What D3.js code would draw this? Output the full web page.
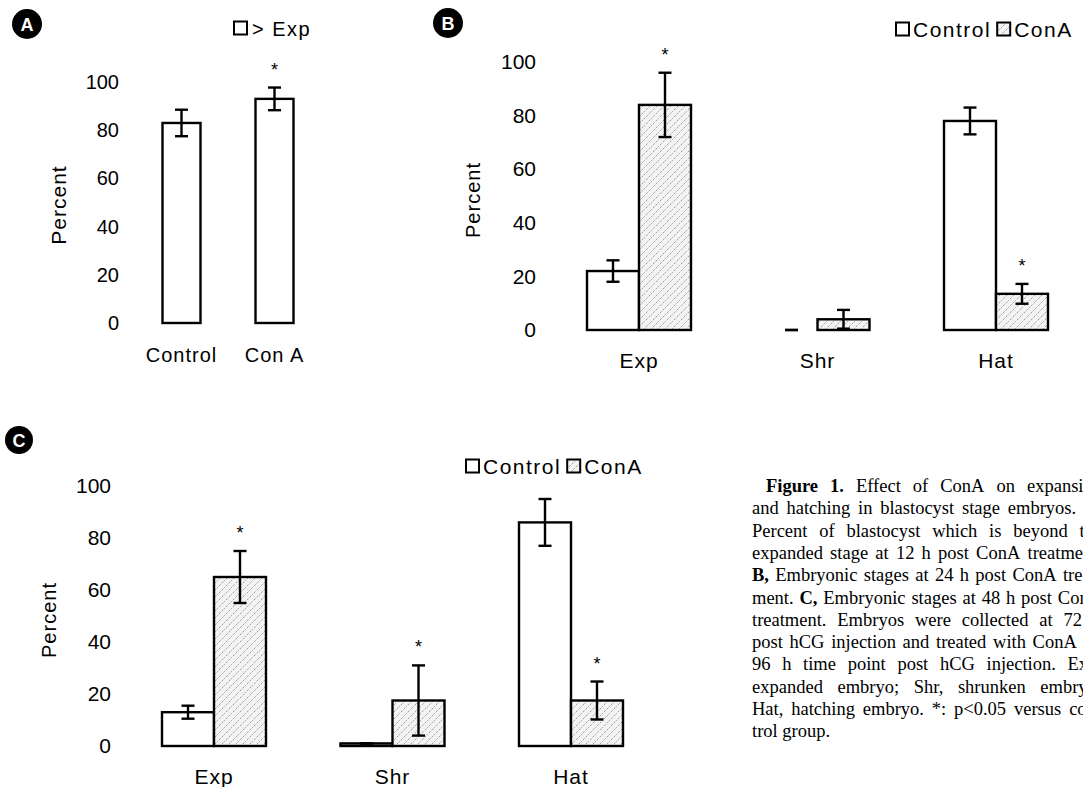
<!DOCTYPE html>
<html>
<head>
<meta charset="utf-8">
<script src="https://cdn.jsdelivr.net/npm/d3@7"></script>
<style>
  body { margin: 0; background: #fff; }
  text { font-family: "Liberation Sans", Arial, sans-serif; fill: #000; }
  .cap { font-family: "Liberation Serif", "Times New Roman", serif; }
</style>
</head>
<body>
<svg id="fig" width="1083" height="787"></svg>
<script>
// ---- data ----
// panel A: blastocysts beyond expanded stage at 12 h
const catsA = ["Control", "Con A"]
const valsA = [83, 93]
const errsA = [5.5, 4.7]
const sigA = [false, true]

// panels B and C: embryonic stages
const stages = ["Exp", "Shr", "Hat"]
const groups = ["Control", "ConA"]

const ctrlB = [22, 0, 78]
const ctrlErrB = [4, 0, 5]
const conaB = [84, 4, 13.5]
const conaErrB = [12, 3.5, 3.7]
const sigB = [true, false, true]

const ctrlC = [13, 1, 86]
const ctrlErrC = [2.5, 0, 9]
const conaC = [65, 17.5, 17.5]
const conaErrC = [10, 13.5, 7.3]
const sigC = [true, true, true]

const yTicks = [0, 20, 40, 60, 80, 100]

const caption = [
  ["Figure 1.", " Effect of ConA on expansion"],
  ["and hatching in blastocyst stage embryos. ", "A,"],
  ["Percent of blastocyst which is beyond the"],
  ["expanded stage at 12 h post ConA treatment."],
  ["B,", " Embryonic stages at 24 h post ConA treat-"],
  ["ment. ", "C,", " Embryonic stages at 48 h post ConA"],
  ["treatment. Embryos were collected at 72 h"],
  ["post hCG injection and treated with ConA on"],
  ["96 h time point post hCG injection. Exp,"],
  ["expanded embryo; Shr, shrunken embryo;"],
  ["Hat, hatching embryo. *: p<0.05 versus con-"],
  ["trol group."]
]
const boldBits = ["Figure 1.", "A,", "B,", "C,"]

// ---- drawing ----
const svg = d3.select("#fig")
svg.append("rect").attr("width", 1083).attr("height", 787).attr("fill", "#fff")

const defs = svg.append("defs")
const pat = defs.append("pattern")
  .attr("id", "hatch")
  .attr("patternUnits", "userSpaceOnUse")
  .attr("width", 7).attr("height", 7)
pat.append("rect").attr("width", 7).attr("height", 7).attr("fill", "#f3f3f3")
pat.append("path").attr("d", "M-1,8 L8,-1")
  .attr("stroke", "#8a8a8a").attr("stroke-width", 0.8).attr("stroke-dasharray", "2.5,1.5")

function badge(cx, cy, r, letter) {
  svg.append("circle").attr("cx", cx).attr("cy", cy).attr("r", r).attr("fill", "#000")
  svg.append("text").attr("x", cx).attr("y", cy + 6.5)
    .attr("text-anchor", "middle").style("font-size", "18px").style("font-weight", "bold")
    .style("fill", "#fff").text(letter)
}

function yAxis(y, xRight, size) {
  const g = svg.append("g")
    .attr("transform", `translate(${xRight},0)`)
    .call(d3.axisLeft(y).tickValues(yTicks).tickSize(0).tickPadding(0))
  g.select(".domain").remove()
  g.selectAll("text")
    .style("font-size", size).style("font-family", null)
    .attr("fill", "#000")
}

function yLabel(x, yc, size) {
  svg.append("text")
    .attr("transform", `translate(${x},${yc}) rotate(-90)`)
    .attr("text-anchor", "middle")
    .style("font-size", size).style("letter-spacing", "1px")
    .text("Percent")
}

function errBar(x, y, v, e, cap) {
  const g = svg.append("g").attr("stroke", "#000").attr("stroke-width", 2.4)
  g.append("line").attr("x1", x).attr("x2", x).attr("y1", y(v - e)).attr("y2", y(v + e))
  g.append("line").attr("x1", x - cap / 2).attr("x2", x + cap / 2).attr("y1", y(v + e)).attr("y2", y(v + e))
  g.append("line").attr("x1", x - cap / 2).attr("x2", x + cap / 2).attr("y1", y(v - e)).attr("y2", y(v - e))
}

function star(x, y, v, e) {
  svg.append("text").attr("x", x).attr("y", y(v + e) - 12)
    .attr("text-anchor", "middle").style("font-size", "18px").text("*")
}

function bar(x0, w, y, v, fill) {
  if (v <= 0) return
  svg.append("rect")
    .attr("x", x0).attr("y", y(v))
    .attr("width", w).attr("height", y(0) - y(v))
    .attr("fill", fill).attr("stroke", "#000").attr("stroke-width", 2.4)
}

function legend(x, yMid, items, size) {
  let cx = x
  items.forEach(it => {
    svg.append("rect").attr("x", cx).attr("y", yMid - 6.5).attr("width", 13).attr("height", 13)
      .attr("fill", it.fill).attr("stroke", "#000").attr("stroke-width", 2)
    cx += it.gap
    const t = svg.append("text").attr("x", cx).attr("y", yMid + 7.5)
      .style("font-size", size).style("letter-spacing", "1.5px").text(it.label)
    cx += t.node().getComputedTextLength() + 6
  })
}

// ---- panel A ----
badge(27, 24, 15, "A")
const yA = d3.scaleLinear().domain([0, 100]).range([323, 82])
const xA = d3.scalePoint().domain(catsA).range([181.5, 274.5])
const wA = 38
yAxis(yA, 119, "20px")
yLabel(66, 205, "21px")
catsA.forEach((c, i) => {
  const cx = xA(c)
  bar(cx - wA / 2, wA, yA, valsA[i], "#fff")
  errBar(cx, yA, valsA[i], errsA[i], 13)
  if (sigA[i]) star(cx, yA, valsA[i], errsA[i])
  svg.append("text").attr("x", cx).attr("y", 362).attr("text-anchor", "middle")
    .style("font-size", "20px").style("letter-spacing", "1px").text(c)
})
legend(234, 28, [{ fill: "#fff", label: "> Exp", gap: 18 }], "20px")

// ---- grouped panels ----
function grouped(opt) {
  const y = d3.scaleLinear().domain([0, 100]).range(opt.yRange)
  const x = d3.scalePoint().domain(stages).range(opt.xRange)
  const sub = d3.scaleBand().domain(groups).range([-opt.w, opt.w])
  yAxis(y, opt.tickRight, "21px")
  yLabel(opt.labelX, opt.labelY, "20px")
  stages.forEach((s, i) => {
    const series = [
      { v: opt.ctrl[i], e: opt.ctrlErr[i], fill: "#fff", sig: false },
      { v: opt.cona[i], e: opt.conaErr[i], fill: "url(#hatch)", sig: opt.sig[i] }
    ]
    series.forEach((d, j) => {
      const x0 = x(s) + sub(groups[j])
      const cx = x0 + sub.bandwidth() / 2
      bar(x0, sub.bandwidth(), y, d.v, d.fill)
      errBar(cx, y, d.v, d.e, 13)
      if (d.sig) star(cx, y, d.v, d.e)
    })
    svg.append("text").attr("x", x(s)).attr("y", opt.catY)
      .attr("text-anchor", "middle").style("font-size", "21px").style("letter-spacing", "1px").text(s)
  })
  legend(opt.legX, opt.legY, [
    { fill: "#fff", label: "Control", gap: 17 },
    { fill: "url(#hatch)", label: "ConA", gap: 17 }
  ], "21px")
}

badge(448, 23, 15, "B")
grouped({
  yRange: [330, 62], xRange: [639, 996], w: 52,
  tickRight: 536, labelX: 480, labelY: 200, catY: 368,
  ctrl: ctrlB, ctrlErr: ctrlErrB, cona: conaB, conaErr: conaErrB, sig: sigB,
  legX: 896, legY: 29
})

badge(19, 440, 14, "C")
grouped({
  yRange: [746, 486], xRange: [214, 571], w: 52,
  tickRight: 111, labelX: 56, labelY: 620, catY: 784,
  ctrl: ctrlC, ctrlErr: ctrlErrC, cona: conaC, conaErr: conaErrC, sig: sigC,
  legX: 466, legY: 466
})

// ---- caption (justified, runs past the right edge as in the figure) ----
const capX = 752, capW = 350, capTop = 492, capStep = 22.3
caption.forEach((parts, li) => {
  const indent = li === 0 ? 14 : 0
  const words = []
  parts.forEach(p => {
    const bold = boldBits.includes(p.trim())
    p.trim().split(/\s+/).forEach(w => words.push({ w, bold }))
  })
  const yy = capTop + li * capStep
  const nodes = words.map(d => svg.append("text").attr("class", "cap").attr("y", yy)
    .style("font-size", "18.5px").style("font-weight", d.bold ? "bold" : "normal").text(d.w))
  const lens = nodes.map(n => n.node().getComputedTextLength())
  const total = d3.sum(lens)
  const last = li === caption.length - 1
  const gap = last ? 4.6 : Math.max(3, (capW - indent - total) / (words.length - 1))
  let cx = capX + indent
  nodes.forEach((n, k) => { n.attr("x", cx); cx += lens[k] + gap })
})
</script>
</body>
</html>
